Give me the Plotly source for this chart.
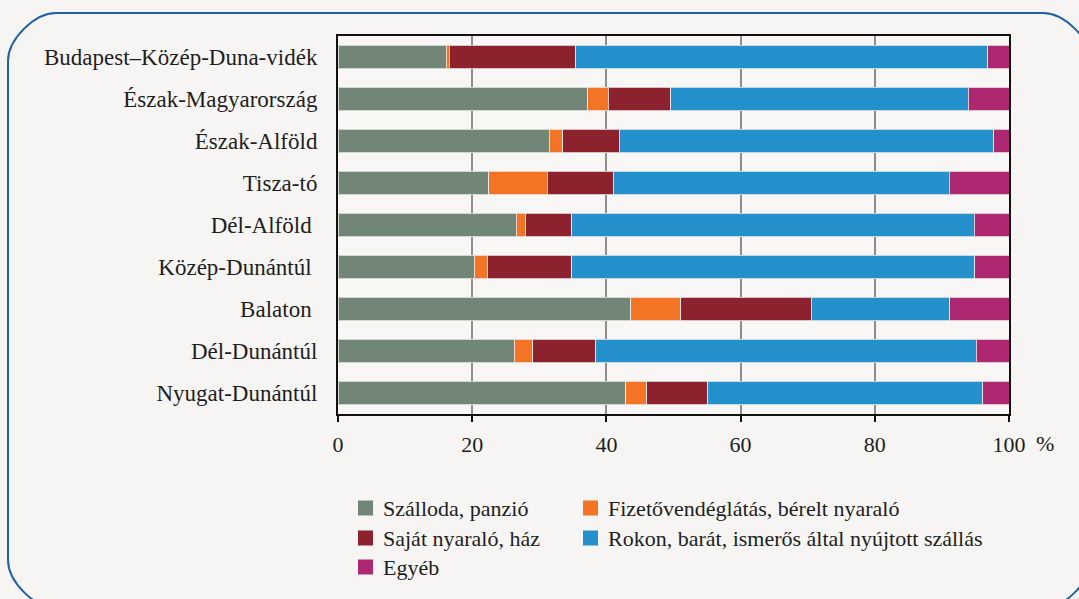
import plotly.graph_objects as go

# régiók (felülről lefelé)
regions = ["Budapest–Közép-Duna-vidék", "Észak-Magyarország", "Észak-Alföld", "Tisza-tó",
           "Dél-Alföld\u00a0", "Közép-Dunántúl\u00a0", "Balaton\u00a0", "Dél-Dunántúl", "Nyugat-Dunántúl"]

# szállástípusok megoszlása, %
szalloda = [16.1, 37.2, 31.5, 22.5, 26.6, 20.3, 43.6, 26.3, 42.9]
fizeto = [0.5, 3.1, 2.0, 8.7, 1.4, 2.0, 7.5, 2.7, 3.1]
sajat = [18.8, 9.3, 8.4, 9.8, 6.8, 12.5, 19.4, 9.4, 9.1]
rokon = [61.4, 44.3, 55.8, 50.1, 60.0, 60.1, 20.7, 56.7, 41.0]
egyeb = [3.2, 6.1, 2.3, 8.9, 5.2, 5.1, 8.8, 4.9, 3.9]

x_ticks = [0, 20, 40, 60, 80, 100]

SERIES = [
    ("Szálloda, panzió", szalloda, "#718677"),
    ("Fizetővendéglátás, bérelt nyaraló", fizeto, "#f37425"),
    ("Saját nyaraló, ház", sajat, "#8c222d"),
    ("Rokon, barát, ismerős által nyújtott szállás", rokon, "#2491cd"),
    ("Egyéb", egyeb, "#ad2870"),
]

BG = "#f6f5f3"
INK = "#1e1e1e"
FONT = "Liberation Serif"

# pixel geometry of the page
W, H = 1079, 599
L, R, T, B = 338, 1009, 36, 414


def px(x):
    return (x - L) / (R - L)


def py(y):
    return (B - y) / (B - T)


fig = go.Figure()
for name, vals, color in SERIES:
    fig.add_bar(
        x=vals, y=regions, orientation="h", name=name, showlegend=False,
        marker=dict(color=color, line=dict(color="rgba(235,235,235,0.8)", width=1)),
        width=0.57,
    )

# rounded frame around the whole figure
x0, y0, x1, y1, r = 8, 13, 1091, 608, 48
k = 0.45 * r
pts = [
    ("M", [(x0 + r, y0)]),
    ("L", [(x1 - r, y0)]),
    ("C", [(x1 - r + k, y0), (x1, y0 + r - k), (x1, y0 + r)]),
    ("L", [(x1, y1 - r)]),
    ("C", [(x1, y1 - r + k), (x1 - r + k, y1), (x1 - r, y1)]),
    ("L", [(x0 + r, y1)]),
    ("C", [(x0 + r - k, y1), (x0, y1 - r + k), (x0, y1 - r)]),
    ("L", [(x0, y0 + r)]),
    ("C", [(x0, y0 + r - k), (x0 + r - k, y0), (x0 + r, y0)]),
]
path = " ".join(cmd + " ".join(f"{px(a):.5f},{py(b):.5f}" for a, b in p) for cmd, p in pts) + " Z"
fig.add_shape(type="path", path=path, xref="paper", yref="paper",
              line=dict(color="#1f62a6", width=2), layer="below")

fig.add_annotation(text="%", x=px(1045), y=py(443), xref="paper", yref="paper",
                   xanchor="center", yanchor="middle",
                   showarrow=False, font=dict(size=22, color=INK, family=FONT))

# legend: two columns (col 1: 0, 2, 4 ; col 2: 1, 3)
leg_cols = [358, 583]
leg_rows = [508, 538, 567]
for i, (name, _, color) in enumerate(SERIES):
    lx = leg_cols[i % 2]
    ly = leg_rows[i // 2]
    fig.add_shape(type="rect", xref="paper", yref="paper",
                  x0=px(lx), x1=px(lx + 15), y0=py(ly - 7.5), y1=py(ly + 7.5),
                  fillcolor=color, line=dict(width=0))
    fig.add_annotation(text=name, x=px(lx + 23), y=py(ly), xref="paper", yref="paper",
                       xanchor="left", yanchor="middle", showarrow=False,
                       font=dict(size=22, color=INK, family=FONT))

fig.update_layout(
    template="none",
    width=W, height=H,
    barmode="stack",
    paper_bgcolor=BG,
    plot_bgcolor="#f8f7f5",
    font=dict(family=FONT, color=INK, size=22),
    margin=dict(l=L, r=W - R, t=T, b=H - B, pad=0),
    showlegend=False,
)
fig.update_xaxes(
    range=[0, 100], tickvals=x_ticks, ticktext=[str(v) for v in x_ticks],
    showgrid=True, gridcolor="#8e8e8e", gridwidth=2, griddash="solid", zeroline=False,
    showline=True, linecolor="#111111", linewidth=2, mirror=True,
    ticks="outside", ticklen=6, tickcolor="#111111", tickwidth=2,
    tickfont=dict(size=22, family=FONT, color=INK), ticklabelstandoff=4,
)
fig.update_yaxes(
    categoryorder="array", categoryarray=regions, autorange="reversed",
    showgrid=False, zeroline=False,
    showline=True, linecolor="#111111", linewidth=2, mirror=True,
    ticks="", tickfont=dict(size=23, family=FONT, color=INK), ticklabelstandoff=14,
)

fig.write_html("out.html", config={"displayModeBar": False},
               post_script="document.body.style.margin='0';")
